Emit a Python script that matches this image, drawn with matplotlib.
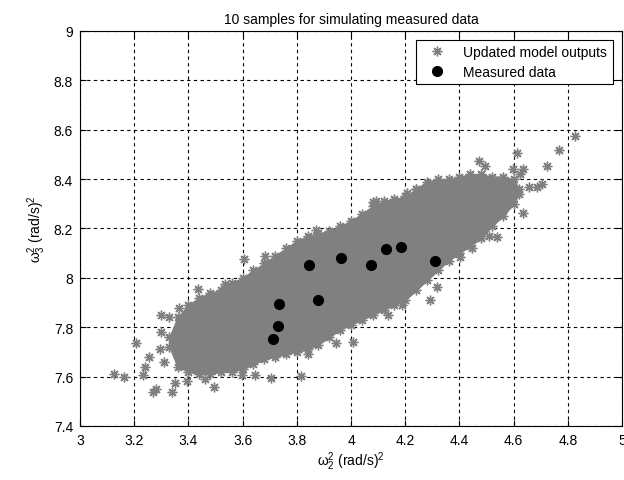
import numpy as np
import matplotlib.pyplot as plt

plt.rcParams['font.family'] = ['Liberation Sans', 'DejaVu Sans']
plt.rcParams['mathtext.fontset'] = 'custom'
plt.rcParams['mathtext.rm'] = 'Liberation Sans'
plt.rcParams['mathtext.it'] = 'Liberation Sans'

# dense core of the model-output cloud (x, lower edge, upper edge)
core_x = [3.33, 3.36, 3.40, 3.44, 3.48, 3.52, 3.56, 3.60, 3.64, 3.68, 3.72,
          3.76, 3.80, 3.84, 3.88, 3.92, 3.96, 4.00, 4.04, 4.08, 4.12, 4.16,
          4.20, 4.24, 4.28, 4.32, 4.36, 4.40, 4.44, 4.48, 4.52, 4.56, 4.60, 4.62]
core_hi = [7.76, 7.84, 7.89, 7.92, 7.94, 7.95, 7.98, 8.00, 8.03, 8.06, 8.09,
           8.12, 8.15, 8.17, 8.18, 8.19, 8.21, 8.23, 8.26, 8.29, 8.31, 8.32,
           8.33, 8.36, 8.39, 8.40, 8.40, 8.41, 8.42, 8.42, 8.41, 8.41, 8.40, 8.36]
core_lo = [7.72, 7.64, 7.62, 7.61, 7.61, 7.62, 7.62, 7.63, 7.65, 7.67, 7.68,
           7.69, 7.70, 7.71, 7.73, 7.76, 7.79, 7.81, 7.83, 7.85, 7.87, 7.89,
           7.91, 7.95, 7.99, 8.03, 8.07, 8.10, 8.13, 8.16, 8.21, 8.25, 8.30, 8.34]

# scattered model outputs outside the dense core
out_x = [3.125, 3.162, 3.205, 3.234, 3.240, 3.256, 3.270, 3.280, 3.338, 3.350,
         3.394, 3.461, 3.494, 3.535, 3.437, 3.366, 3.298, 3.330, 3.295, 3.597,
         3.646, 3.605, 3.681, 3.706, 3.814, 3.843, 3.871, 3.923, 3.943, 4.009,
         4.138, 4.190, 4.092, 4.240, 4.292, 4.316, 4.402, 4.445, 4.510, 4.538,
         4.589, 4.599, 4.611, 4.624, 4.636, 4.634, 4.655, 4.688, 4.706, 4.724,
         4.767, 4.827, 4.473, 4.496, 3.300, 3.310, 4.082, 4.205]
out_y = [7.609, 7.600, 7.735, 7.605, 7.637, 7.681, 7.537, 7.551, 7.537, 7.576,
         7.582, 7.589, 7.559, 7.974, 7.954, 7.876, 7.849, 7.842, 7.711, 7.605,
         7.605, 8.076, 8.087, 7.594, 7.603, 7.690, 8.193, 8.184, 7.738, 7.740,
         7.850, 7.889, 8.312, 8.360, 7.910, 7.961, 8.083, 8.119, 8.170, 8.164,
         8.367, 8.441, 8.505, 8.421, 8.441, 8.263, 8.367, 8.367, 8.380, 8.454,
         8.516, 8.576, 8.475, 8.454, 7.780, 7.660, 8.306, 8.345]

# measured data
meas_x = [3.711, 3.730, 3.733, 3.845, 3.878, 3.962, 4.073, 4.129, 4.185, 4.311]
meas_y = [7.751, 7.805, 7.893, 8.052, 7.912, 8.079, 8.054, 8.118, 8.123, 8.069]

gray = '#808080'
star = (8, 2, 0)

fig = plt.figure(figsize=(6.24, 4.81), dpi=100)
ax = fig.add_axes([0.1282, 0.1123, 0.8686, 0.8212])

ax.fill_between(core_x, core_lo, core_hi, color=gray, lw=1, ec=gray, zorder=2)
edge_x = core_x + core_x
edge_y = core_lo + core_hi
ax.plot(edge_x, edge_y, ls='none', marker=star, ms=7, mew=1.0, color=gray, zorder=2)
ax.plot(out_x, out_y, ls='none', marker=star, ms=7, mew=1.0, color=gray, zorder=2,
        label='Updated model outputs')
ax.plot(meas_x, meas_y, ls='none', marker='o', ms=7, color='black', zorder=3,
        label='Measured data')

ax.set_xlim(3, 5)
ax.set_ylim(7.4, 9)
ax.set_xticks(np.arange(3, 5.01, 0.2))
ax.set_xticklabels(['3', '3.2', '3.4', '3.6', '3.8', '4', '4.2', '4.4', '4.6', '4.8', '5'])
ax.set_yticks(np.arange(7.4, 9.01, 0.2))
ax.set_yticklabels(['7.4', '7.6', '7.8', '8', '8.2', '8.4', '8.6', '8.8', '9'])
ax.grid(True, color='black', ls=(0, (3, 3)), lw=0.8)
ax.set_axisbelow(True)
ax.tick_params(direction='in', length=4, top=True, right=True, labelsize=10, pad=5)
for s in ax.spines.values():
    s.set_linewidth(0.8)

ax.set_title('10 samples for simulating measured data', fontsize=10, pad=6)
ax.set_xlabel(r'$\mathregular{\omega_2^2}$ (rad/s)$^2$', fontsize=10, labelpad=2)
ax.set_ylabel(r'$\mathregular{\omega_3^2}$ (rad/s)$^2$', fontsize=10, labelpad=4)

leg = ax.legend(loc='upper right', bbox_to_anchor=(0.983, 0.978), borderaxespad=0,
                fancybox=False, edgecolor='black', framealpha=1, fontsize=10,
                handlelength=2.2, handletextpad=0.8, borderpad=0.4, labelspacing=0.4)
leg.get_frame().set_linewidth(0.8)

fig.savefig('out.png', dpi=100)
